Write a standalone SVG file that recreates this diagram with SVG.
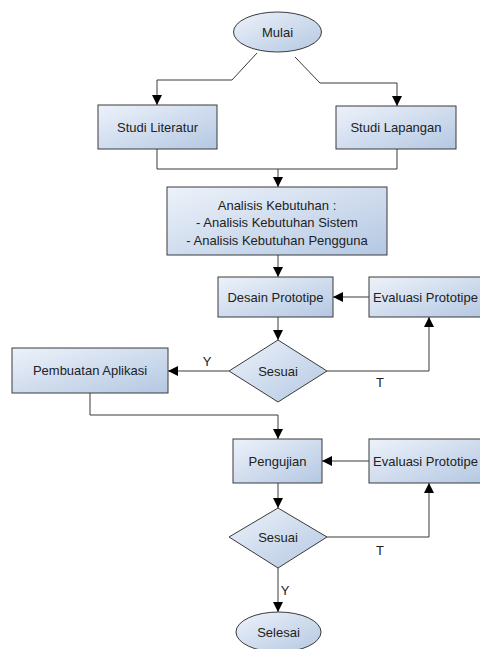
<svg xmlns="http://www.w3.org/2000/svg" width="480" height="649" viewBox="0 0 480 649">
<defs>
<linearGradient id="g" x1="0" y1="0" x2="1" y2="1">
<stop offset="0" stop-color="#edf2fa"/>
<stop offset="1" stop-color="#b4c8e2"/>
</linearGradient>
<marker id="a" viewBox="0 0 10 10" refX="10" refY="5" markerWidth="10" markerHeight="10" markerUnits="userSpaceOnUse" orient="auto">
<path d="M0,0 L10,5 L0,10 Z" fill="#000"/>
</marker>
</defs>
<style>
.n{fill:url(#g);stroke:#3a3a3a;stroke-width:1}
.t{font-family:"Liberation Sans",Arial,sans-serif;font-size:13px;fill:#222;text-anchor:middle;dominant-baseline:central}
.e{fill:none;stroke:#3a3a3a;stroke-width:1;marker-end:url(#a)}
.l{fill:none;stroke:#3a3a3a;stroke-width:1}
</style>
<rect width="480" height="649" fill="#fff"/>
<g id="connectors">
<path class="e" d="M257,53 L232,80 L157,80 L157,105"/>
<path class="e" d="M295,57 L320,83 L397,83 L397,106"/>
<path class="l" d="M157,149 L157,169 L397,169 L397,149"/>
<path class="e" d="M278,169 L278,187"/>
<path class="e" d="M278,255 L278,277"/>
<path class="e" d="M369,297 L333,297"/>
<path class="e" d="M278,317 L278,340"/>
<path class="e" d="M229,371 L168,371"/>
<path class="e" d="M327,371 L429,371 L429,317"/>
<path class="e" d="M90,393 L90,415 L278,415 L278,439"/>
<path class="e" d="M369,461 L322,461"/>
<path class="e" d="M278,483 L278,508"/>
<path class="e" d="M327,537 L429,537 L429,483"/>
<path class="e" d="M278,568 L278,612"/>
<text class="t" x="207" y="361">Y</text>
<text class="t" x="380" y="382">T</text>
<text class="t" x="380" y="550">T</text>
<text class="t" x="285" y="590">Y</text>
</g>
<g id="mulai"><ellipse class="n" cx="277.5" cy="32" rx="44" ry="20"/><text class="t" x="277.5" y="32">Mulai</text></g>
<g id="studi-literatur"><rect class="n" x="98" y="105" width="119" height="44"/><text class="t" x="157.5" y="127">Studi Literatur</text></g>
<g id="studi-lapangan"><rect class="n" x="336" y="106" width="120" height="43"/><text class="t" x="396" y="127.5">Studi Lapangan</text></g>
<g id="analisis"><rect class="n" x="167" y="187" width="220" height="68"/>
<text class="t" x="277" y="205">Analisis Kebutuhan :</text>
<text class="t" x="277" y="222.5">- Analisis Kebutuhan Sistem</text>
<text class="t" x="277" y="240">- Analisis Kebutuhan Pengguna</text></g>
<g id="desain"><rect class="n" x="218" y="277" width="115" height="40"/><text class="t" x="275.5" y="297">Desain Prototipe</text></g>
<g id="evaluasi1"><rect class="n" x="369" y="277" width="116" height="40"/><text class="t" x="425.5" y="297">Evaluasi Prototipe</text></g>
<g id="sesuai1"><polygon class="n" points="278,340 327,371 278,402 229,371"/><text class="t" x="278" y="371">Sesuai</text></g>
<g id="pembuatan"><rect class="n" x="12" y="348" width="156" height="45"/><text class="t" x="90" y="370.5">Pembuatan Aplikasi</text></g>
<g id="pengujian"><rect class="n" x="233" y="439" width="89" height="44"/><text class="t" x="277.5" y="461">Pengujian</text></g>
<g id="evaluasi2"><rect class="n" x="369" y="439" width="116" height="44"/><text class="t" x="425.5" y="461">Evaluasi Prototipe</text></g>
<g id="sesuai2"><polygon class="n" points="278,508 327,537 278,568 229,537"/><text class="t" x="278" y="537">Sesuai</text></g>
<g id="selesai"><ellipse class="n" cx="278.5" cy="632" rx="42.5" ry="20"/><text class="t" x="278.5" y="632">Selesai</text></g>
</svg>
